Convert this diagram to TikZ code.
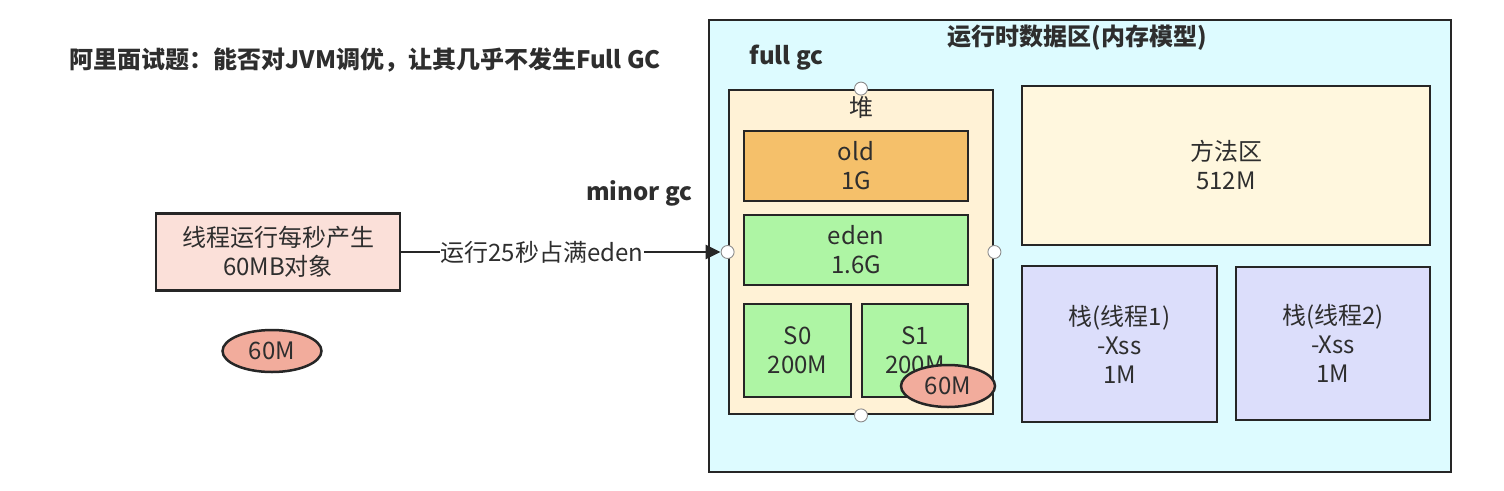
\documentclass[tikz,border=0pt]{standalone}
\usepackage{fontspec}
\setmainfont{Noto Sans CJK SC}
\usetikzlibrary{arrows.meta,shapes.geometric}
\definecolor{txt}{HTML}{2E2E2E}
\definecolor{edge}{HTML}{262626}
\definecolor{outerfill}{HTML}{DDFBFF}
\definecolor{heapfill}{HTML}{FFF2D6}
\definecolor{oldfill}{HTML}{F5C06A}
\definecolor{greenfill}{HTML}{AEF5A4}
\definecolor{ellfill}{HTML}{F2AC9C}
\definecolor{threadfill}{HTML}{FBE0D9}
\definecolor{methodfill}{HTML}{FFF7DE}
\definecolor{stackfill}{HTML}{DCDEFB}
\begin{document}
\begin{tikzpicture}[x=1pt,y=-1pt,
  every node/.style={text=txt,font=\fontsize{24}{29}\selectfont},
  box/.style={draw=edge,line width=2.8pt,rectangle,inner sep=0pt,align=center},
  blob/.style={draw=edge,line width=2.5pt,ellipse,inner sep=0pt,fill=ellfill},
  handle/.style={draw=black!45,fill=white,circle,line width=0.9pt,minimum size=13pt,inner sep=0pt},
  boldlabel/.style={font=\fontsize{24}{29}\selectfont\bfseries}
]
\useasboundingbox[fill=white] (0,0) rectangle (1504,490);

% outer runtime data area
\node[box,fill=outerfill,minimum width=742pt,minimum height=452pt] (outer) at (1080,246) {};
\node[boldlabel] (rtitle) at (1077.5,38) {运行时数据区(内存模型)};
\node[boldlabel,anchor=west] (fullgc) at (746,58) {full gc};

% heap
\node[box,fill=heapfill,minimum width=264pt,minimum height=324pt] (heap) at (861,252) {};
\node (heaplbl) at (861,107) {堆};
\node[box,fill=oldfill,minimum width=224pt,minimum height=70pt] (old) at (856,166) {old\\1G};
\node[box,fill=greenfill,minimum width=224pt,minimum height=70pt] (eden) at (856,250) {eden\\1.6G};
\node[box,fill=greenfill,minimum width=107pt,minimum height=93pt] (s0) at (797.5,350.5) {S0\\200M};
\node[box,fill=greenfill,minimum width=106pt,minimum height=93pt] (s1) at (915,350.5) {S1\\200M};
\node[blob,minimum width=94pt,minimum height=42pt] (obj2) at (948,386) {60M};

% handles on heap
\node[handle] (ht) at (heap.north) {};
\node[handle] (hb) at (heap.south) {};
\node[handle] (hl) at (heap.west) {};
\node[handle] (hr) at (heap.east) {};

% method area and stacks
\node[box,fill=methodfill,minimum width=408pt,minimum height=159pt] (method) at (1226,165.5) {方法区\\512M};
\node[box,fill=stackfill,minimum width=195pt,minimum height=156pt] (stack1) at (1119.5,344) {栈(线程1)\\-Xss\\1M};
\node[box,fill=stackfill,minimum width=194pt,minimum height=153pt] (stack2) at (1333,343.5) {栈(线程2)\\-Xss\\1M};

% left side
\node[boldlabel,anchor=west] (title) at (66,60) {阿里面试题：能否对JVM调优，让其几乎不发生Full GC};
\node[boldlabel,anchor=east] (minorgc) at (696,193) {minor gc};
\node[box,fill=threadfill,minimum width=244pt,minimum height=77pt] (thread) at (278,252) {线程运行每秒产生\\60MB对象};
\node[blob,minimum width=99pt,minimum height=42pt] (obj1) at (272,351) {60M};

\draw[edge,line width=2.8pt,-{Triangle[length=15pt,width=14pt]}] (thread.east) -- (hl)
  node[pos=0.44,fill=white,inner sep=1pt] (arrlbl) {运行25秒占满eden};
\end{tikzpicture}
\end{document}
